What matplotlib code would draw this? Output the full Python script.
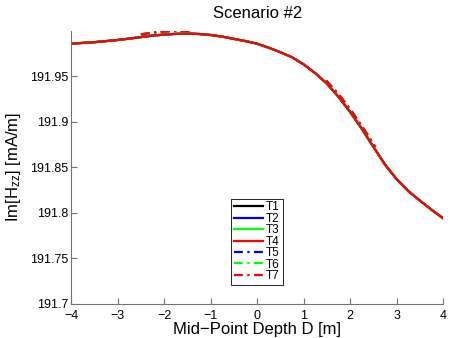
import numpy as np
import matplotlib
matplotlib.use('Agg')
import matplotlib.pyplot as plt

plt.rcParams['font.family'] = ['Liberation Sans', 'DejaVu Sans']
plt.rcParams['mathtext.default'] = 'regular'

# mid-point depth and response
depth = [-4.00, -3.75, -3.50, -3.25, -3.00, -2.75, -2.50, -2.25, -2.00, -1.75,
         -1.50, -1.25, -1.00, -0.75, -0.50, -0.25, 0.00, 0.25, 0.50, 0.75,
         1.00, 1.25, 1.50, 1.75, 2.00, 2.25, 2.50, 2.75, 3.00, 3.25,
         3.50, 3.75, 4.00]
hzz = [191.9860, 191.9868, 191.9876, 191.9888, 191.9900, 191.9915, 191.9932, 191.9948, 191.9960, 191.9967,
       191.9970, 191.9966, 191.9955, 191.9937, 191.9912, 191.9888, 191.9859, 191.9815, 191.9765, 191.9710,
       191.9632, 191.9535, 191.9420, 191.9275, 191.9109, 191.8925, 191.8725, 191.8530, 191.8370, 191.8240,
       191.8135, 191.8035, 191.7940]

# dash-dot tools only visible where they part from the solid curves
depth_dd = [-2.50, -2.25, -2.00, -1.75, -1.45, np.nan, 1.48, 1.75, 2.00, 2.25, 2.54]
hzz_dd = [191.9962, 191.9980, 191.9993, 191.9999, 192.0000, np.nan,
          191.9455, 191.9305, 191.9140, 191.8955, 191.8725]

labels = ['T1', 'T2', 'T3', 'T4', 'T5', 'T6', 'T7']
colors = ['k', 'b', (0, 1, 0), 'r', 'b', (0, 1, 0), 'r']

fig = plt.figure(figsize=(4.5, 3.38), dpi=100)
ax = fig.add_axes([0.158, 0.1006, 0.827, 0.808])

for i in range(4):
    ax.plot(depth, hzz, color=colors[i], lw=1.6, label=labels[i])
for i in range(4, 7):
    ax.plot(depth_dd, hzz_dd, color=colors[i], lw=1.6, ls=(0, (4, 2, 1, 2)), label=labels[i])

ax.set_xlim(-4, 4)
ax.set_ylim(191.7, 192.0)
ax.set_xticks(np.arange(-4, 5, 1))
ax.set_yticks([191.7, 191.75, 191.8, 191.85, 191.9, 191.95])
ax.set_yticklabels(['191.7', '191.75', '191.8', '191.85', '191.9', '191.95'])

for s in ['top', 'right']:
    ax.spines[s].set_visible(False)
for s in ['left', 'bottom']:
    ax.spines[s].set_color('0.45')
    ax.spines[s].set_linewidth(0.8)
ax.tick_params(direction='in', length=4, width=0.8, color='0.45', labelsize=9)
ax.tick_params(axis='x', pad=4)
ax.tick_params(axis='y', pad=2)

ax.set_title('Scenario #2', fontsize=12, pad=9)
ax.set_xlabel('Mid\u2212Point Depth D [m]', fontsize=12, labelpad=0)
ax.set_ylabel('Im[H$_{zz}$] [mA/m]', fontsize=12, labelpad=5)

leg = ax.legend(loc='lower center', bbox_to_anchor=(0.5, 0.07), borderaxespad=0,
                fontsize=8.5, labelspacing=-0.05, handlelength=2.4, handletextpad=0.3,
                borderpad=0.25, fancybox=False, framealpha=1)
leg.get_frame().set_edgecolor('k')
leg.get_frame().set_linewidth(0.6)

fig.savefig('out.png', dpi=100)
